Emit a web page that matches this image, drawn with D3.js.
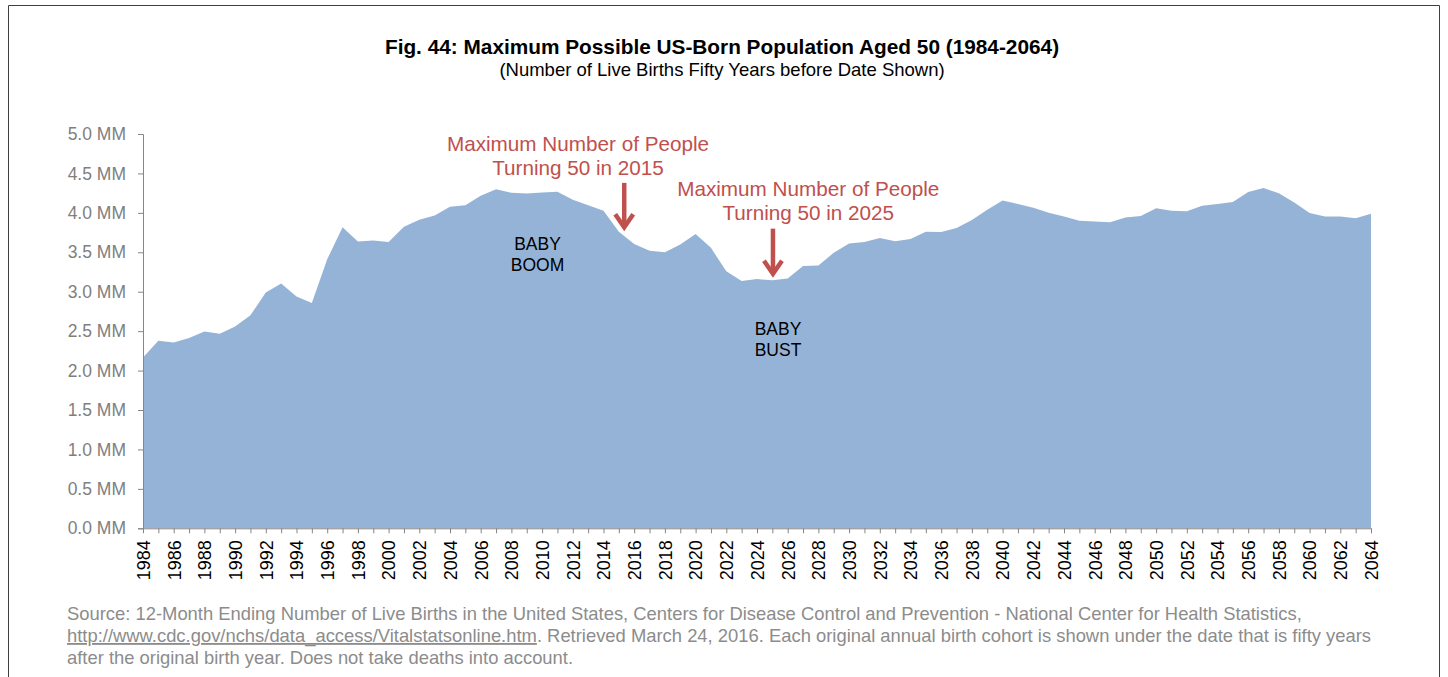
<!DOCTYPE html>
<html>
<head>
<meta charset="utf-8">
<script src="https://cdn.jsdelivr.net/npm/d3@7"></script>
<style>
  body { margin: 0; background: #fff; }
  svg { display: block; font-family: "Liberation Sans", Arial, sans-serif; }
</style>
</head>
<body>
<div id="graph"></div>
<script>
document.addEventListener("DOMContentLoaded", function() {
  "use strict";

  //---------------------------------------------------
  /* data: live births, each shown fifty years after birth year (millions) */
  const years = d3.range(1984, 2065);
  const births = [
    2.167, 2.377, 2.355, 2.413, 2.496, 2.466, 2.559, 2.703, 2.989, 3.104,
    2.939, 2.858, 3.411, 3.817, 3.637, 3.649, 3.632, 3.823, 3.913, 3.965,
    4.078, 4.097, 4.218, 4.300, 4.255, 4.245, 4.258, 4.268, 4.167, 4.098,
    4.027, 3.760, 3.606, 3.521, 3.502, 3.600, 3.731, 3.556, 3.258, 3.137,
    3.160, 3.144, 3.168, 3.327, 3.333, 3.494, 3.612, 3.629, 3.681, 3.639,
    3.669, 3.761, 3.757, 3.809, 3.910, 4.041, 4.158, 4.111, 4.065, 4.000,
    3.953, 3.900, 3.891, 3.881, 3.942, 3.959, 4.059, 4.026, 4.022, 4.090,
    4.112, 4.138, 4.266, 4.316, 4.248, 4.131, 3.999, 3.954, 3.953, 3.932,
    3.988
  ];
  const yTicks = [0, 0.5, 1, 1.5, 2, 2.5, 3, 3.5, 4, 4.5, 5];

  /* red notes with their arrows (year, value anchors) */
  const notes = [
    { lines: ["Maximum Number of People", "Turning 50 in 2015"], year: 2012.34, value: 4.785,
      arrowYear: 2015.35, arrowFrom: 4.38, arrowTo: 3.78 },
    { lines: ["Maximum Number of People", "Turning 50 in 2025"], year: 2027.34, value: 4.214,
      arrowYear: 2025.04, arrowFrom: 3.80, arrowTo: 3.19 }
  ];
  const labels = [
    { lines: ["BABY", "BOOM"], year: 2009.7, value: 3.535 },
    { lines: ["BABY", "BUST"], year: 2025.37, value: 2.45 }
  ];

  const title = "Fig. 44: Maximum Possible US-Born Population Aged 50 (1984-2064)";
  const subtitle = "(Number of Live Births Fifty Years before Date Shown)";

  //---------------------------------
  /* sizes */
  const w = 1448;
  const h = 677;
  const left = 143;
  const right = 1371;
  const top = 134;
  const bottom = 528.3;
  const red = "#c0504d";
  const axisColor = "#868686";

  const xScale = d3.scaleLinear().domain([1984, 2064]).range([left, right]);
  const yScale = d3.scaleLinear().domain([0, 5]).range([bottom, top]);

  const svg = d3.select("#graph")
    .append("svg")
    .attr("width", w)
    .attr("height", h);

  // frame
  svg.append("path")
    .attr("d", "M8.5,700 V5.5 H1439.5 V700")
    .attr("fill", "none")
    .attr("stroke", "#404040")
    .attr("stroke-width", 1);

  // titles
  svg.append("text")
    .attr("x", 722).attr("y", 54)
    .attr("text-anchor", "middle")
    .style("font-size", "20.8px").style("font-weight", "bold")
    .text(title);
  svg.append("text")
    .attr("x", 722).attr("y", 76)
    .attr("text-anchor", "middle")
    .style("font-size", "18.5px")
    .text(subtitle);

  //---------------------------------
  /* area */
  const area = d3.area()
    .x((d, i) => xScale(years[i]))
    .y0(yScale(0))
    .y1(d => yScale(d));

  svg.append("path")
    .datum(births)
    .attr("d", area)
    .attr("fill", "#95b3d7");

  //---------------------------------
  /* axes */
  const yAxis = d3.axisLeft(yScale)
    .tickValues(yTicks)
    .tickSize(5)
    .tickPadding(12)
    .tickFormat(d => d3.format(".1f")(d) + " MM");
  const gy = svg.append("g")
    .attr("transform", `translate(${left}, 0)`)
    .call(yAxis);
  gy.select(".domain").attr("stroke", axisColor);
  gy.selectAll(".tick line").attr("stroke", axisColor);
  gy.selectAll(".tick text")
    .attr("fill", "#7f7f7f")
    .style("font-size", "17.5px")
    .style("font-family", "'Liberation Sans', Arial, sans-serif");

  const xAxis = d3.axisBottom(xScale)
    .tickValues(years)
    .tickSize(5)
    .tickSizeOuter(0)
    .tickFormat(d => d % 2 === 0 ? String(d) : "");
  const gx = svg.append("g")
    .attr("transform", `translate(0, ${bottom})`)
    .call(xAxis);
  gx.select(".domain").attr("stroke", axisColor);
  gx.selectAll(".tick line").attr("stroke", axisColor);
  gx.selectAll(".tick text")
    .attr("transform", "rotate(-90)")
    .attr("x", -12)
    .attr("y", 0)
    .attr("dy", "0.35em")
    .attr("text-anchor", "end")
    .attr("fill", "#000")
    .style("font-size", "18px")
    .style("font-family", "'Liberation Sans', Arial, sans-serif");

  //---------------------------------
  /* annotations */
  notes.forEach(function(n) {
    const t = svg.append("text")
      .attr("text-anchor", "middle")
      .attr("fill", red)
      .style("font-size", "20.7px");
    n.lines.forEach(function(line, i) {
      t.append("tspan")
        .attr("x", xScale(n.year))
        .attr("y", yScale(n.value) + i * 24)
        .text(line);
    });
    const ax = xScale(n.arrowYear);
    const y1 = yScale(n.arrowFrom);
    const y2 = yScale(n.arrowTo);
    svg.append("line")
      .attr("x1", ax).attr("x2", ax)
      .attr("y1", y1).attr("y2", y2 - 3)
      .attr("stroke", red)
      .attr("stroke-width", 4.5);
    svg.append("path")
      .attr("d", `M${ax - 9},${y2 - 16} L${ax},${y2 - 3} L${ax + 9},${y2 - 16}`)
      .attr("fill", "none")
      .attr("stroke", red)
      .attr("stroke-width", 4.5)
      .attr("stroke-linejoin", "miter");
  });

  labels.forEach(function(l) {
    const t = svg.append("text")
      .attr("text-anchor", "middle")
      .attr("fill", "#000")
      .style("font-size", "17.5px");
    l.lines.forEach(function(line, i) {
      t.append("tspan")
        .attr("x", xScale(l.year))
        .attr("y", yScale(l.value) + i * 21)
        .text(line);
    });
  });

  //---------------------------------
  /* source note */
  const src = svg.append("text")
    .attr("fill", "#8c8c8c")
    .style("font-size", "18.4px");
  src.append("tspan")
    .attr("x", 67).attr("y", 620)
    .text("Source: 12-Month Ending Number of Live Births in the United States, Centers for Disease Control and Prevention - National Center for Health Statistics,");
  src.append("tspan")
    .attr("x", 67).attr("y", 642)
    .style("text-decoration", "underline")
    .text("http://www.cdc.gov/nchs/data_access/Vitalstatsonline.htm");
  src.append("tspan")
    .text(". Retrieved March 24, 2016. Each original annual birth cohort is shown under the date that is fifty years");
  src.append("tspan")
    .attr("x", 67).attr("y", 664)
    .text("after the original birth year. Does not take deaths into account.");
});
</script>
</body>
</html>
